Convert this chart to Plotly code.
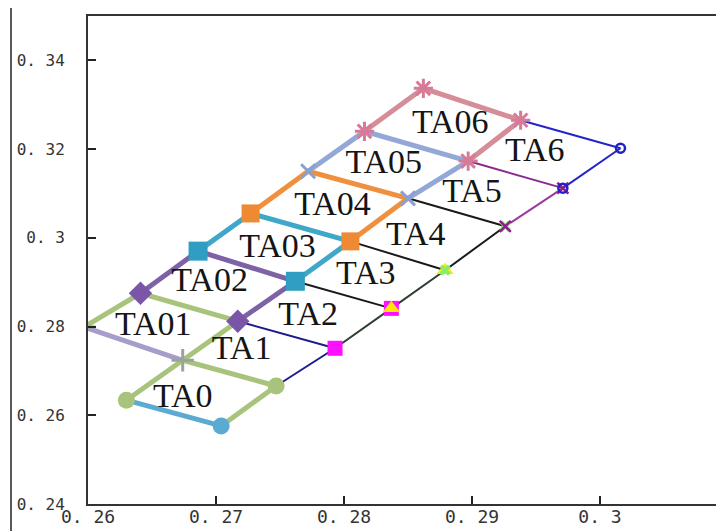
import plotly.graph_objects as go

# ---- grid points ----
# upper-left chain edge (A), middle chain (B), lower-right chain edge (C)
A_x = [0.2597, 0.2641, 0.2686, 0.2727, 0.2772, 0.2816, 0.2862]
A_y = [0.2799, 0.2875, 0.2970, 0.3055, 0.3150, 0.3240, 0.3337]
B_x = [0.2674, 0.2717, 0.2762, 0.2805, 0.2850, 0.2897, 0.2938]
B_y = [0.2724, 0.2812, 0.2902, 0.2992, 0.3089, 0.3173, 0.3265]
C_x = [0.2747, 0.2793, 0.2837, 0.2879, 0.2926, 0.2971, 0.3016]
C_y = [0.2666, 0.2751, 0.2841, 0.2927, 0.3026, 0.3112, 0.3202]
# TA0 extra corners
D_x, D_y = 0.2630, 0.2634
E_x, E_y = 0.2704, 0.2576

# ---- labels ----
upper_labels = ["TA01", "TA02", "TA03", "TA04", "TA05", "TA06"]
upper_lx = [0.2651, 0.2695, 0.2748, 0.2791, 0.2831, 0.2883]
upper_ly = [0.2799, 0.2900, 0.2977, 0.3071, 0.3166, 0.3256]
lower_labels = ["TA1", "TA2", "TA3", "TA4", "TA5", "TA6"]
lower_lx = [0.2720, 0.2772, 0.2817, 0.2856, 0.2900, 0.2949]
lower_ly = [0.2745, 0.2823, 0.2914, 0.3004, 0.3100, 0.3193]
ta0_label, ta0_lx, ta0_ly = "TA0", 0.2674, 0.2637

x_ticks = [0.26, 0.27, 0.28, 0.29, 0.30, 0.31]
x_ticktext = ["0. 26", "0. 27", "0. 28", "0. 29", "0. 3", "0. 31"]
y_ticks = [0.24, 0.26, 0.28, 0.30, 0.32, 0.34]
y_ticktext = ["0. 24", "0. 26", "0. 28", "0. 3", "0. 32", "0. 34"]

# ---- styles ----
thick_colors = ["#a8c47c", "#7e62a6", "#3fa7c7", "#f0903e", "#93a8d6", "#d58d97"]
thick_symbols = ["cross-thin-open", "diamond", "square", "square", "x-thin-open", "asterisk-open"]
thick_mcolors = ["#9aa39a", "#7a55a8", "#2f9ec2", "#ef8a34", "#8aa0d0", "#d77a98"]
thick_msizes = [16, 18, 19, 18, 14, 16]
spoke_colors = ["#1c1c8c", "#1a1a1a", "#1a1a1a", "#1a1a1a", "#8a2a8a", "#2424c8"]
rim_colors = ["#1c1c8c", "#2f3f2f", "#2f3f2f", "#1a1a1a", "#9a3a9a", "#2424c8"]
thin_symbols = ["diamond", "square", "triangle-up", "x", "x-thin-open", "circle-open"]
thin_mcolors = ["#1c1c8c", "#ff10ff", "#ffe800", "#86ee6a", "#8a208a", "#2020c8"]
thin_msizes = [9, 15, 15, 10, 11, 9]

fig = go.Figure()

# thin lower chain (TA1..TA6): spokes B_k -> C_k and rim C_{k-1} -> C_k
for k in range(1, 7):
    fig.add_trace(go.Scatter(x=[B_x[k], C_x[k]], y=[B_y[k], C_y[k]], mode="lines",
                             line=dict(color=spoke_colors[k - 1], width=2), hoverinfo="skip"))
    fig.add_trace(go.Scatter(x=[C_x[k - 1], C_x[k]], y=[C_y[k - 1], C_y[k]], mode="lines",
                             line=dict(color=rim_colors[k - 1], width=2), hoverinfo="skip"))

# thick: TA0 edges
fig.add_trace(go.Scatter(x=[D_x, E_x], y=[D_y, E_y], mode="lines",
                         line=dict(color="#5aaad2", width=5), hoverinfo="skip"))
fig.add_trace(go.Scatter(x=[A_x[0], B_x[0]], y=[A_y[0], B_y[0]], mode="lines",
                         line=dict(color="#a79dcb", width=5), hoverinfo="skip"))
fig.add_trace(go.Scatter(x=[D_x, B_x[0], C_x[0], E_x], y=[D_y, B_y[0], C_y[0], E_y], mode="lines",
                         line=dict(color="#a8c47c", width=5), hoverinfo="skip"))

# thick upper chain TA01..TA06: A_{k-1} -> A_k -> B_k -> B_{k-1}
for k in range(1, 7):
    fig.add_trace(go.Scatter(x=[A_x[k - 1], A_x[k], B_x[k], B_x[k - 1]],
                             y=[A_y[k - 1], A_y[k], B_y[k], B_y[k - 1]], mode="lines",
                             line=dict(color=thick_colors[k - 1], width=5), hoverinfo="skip"))

# thin markers (series k at C_{k-1}, C_k)
for k in range(1, 7):
    sym = thin_symbols[k - 1]
    openm = sym.endswith("open")
    fig.add_trace(go.Scatter(x=[C_x[k - 1], C_x[k]], y=[C_y[k - 1], C_y[k]], mode="markers",
                             marker=dict(symbol=sym, size=thin_msizes[k - 1], color=thin_mcolors[k - 1],
                                         line=dict(width=2.5 if openm else 0, color=thin_mcolors[k - 1])),
                             hoverinfo="skip"))

# TA0 markers
fig.add_trace(go.Scatter(x=[D_x, C_x[0]], y=[D_y, C_y[0]], mode="markers",
                         marker=dict(symbol="circle", size=17, color="#a8c47c"), hoverinfo="skip"))
fig.add_trace(go.Scatter(x=[E_x], y=[E_y], mode="markers",
                         marker=dict(symbol="circle", size=17, color="#5aaad2"), hoverinfo="skip"))

# thick markers (series k at A_{k-1}, B_{k-1}; last series also at A6, B6)
for k in range(1, 7):
    xs = [A_x[k - 1], B_x[k - 1]]
    ys = [A_y[k - 1], B_y[k - 1]]
    if k == 6:
        xs += [A_x[6], B_x[6]]
        ys += [A_y[6], B_y[6]]
    sym = thick_symbols[k - 1]
    openm = sym.endswith("open")
    fig.add_trace(go.Scatter(x=xs, y=ys, mode="markers",
                             marker=dict(symbol=sym, size=thick_msizes[k - 1], color=thick_mcolors[k - 1],
                                         line=dict(width=3 if openm else 0, color=thick_mcolors[k - 1])),
                             hoverinfo="skip"))

# labels
lbl_font = dict(family="Liberation Serif", size=34, color="#151515")
fig.add_trace(go.Scatter(x=upper_lx, y=upper_ly, text=upper_labels, mode="text",
                         textfont=lbl_font, hoverinfo="skip"))
fig.add_trace(go.Scatter(x=lower_lx, y=lower_ly, text=lower_labels, mode="text",
                         textfont=lbl_font, hoverinfo="skip"))
fig.add_trace(go.Scatter(x=[ta0_lx], y=[ta0_ly], text=[ta0_label], mode="text",
                         textfont=lbl_font, hoverinfo="skip"))

fig.update_layout(
    width=724, height=531,
    margin=dict(l=80, r=4, t=8, b=35, autoexpand=False),
    paper_bgcolor="white", plot_bgcolor="white",
    showlegend=False,
    xaxis=dict(range=[0.26, 0.31], tickvals=x_ticks, ticktext=x_ticktext,
               ticks="inside", ticklen=8, tickwidth=2, tickcolor="#222",
               showline=True, linecolor="#333", linewidth=2, mirror=True,
               showgrid=False, zeroline=False, ticklabelstandoff=-5, automargin=False,
               tickfont=dict(family="DejaVu Sans Mono", size=18, color="#333")),
    yaxis=dict(range=[0.24, 0.35], tickvals=y_ticks, ticktext=y_ticktext,
               ticks="inside", ticklen=8, tickwidth=2, tickcolor="#222",
               showline=True, linecolor="#333", linewidth=2, mirror=True,
               showgrid=False, zeroline=False, ticklabelstandoff=18, automargin=False,
               tickfont=dict(family="DejaVu Sans Mono", size=16, color="#333")),
    shapes=[dict(type="line", xref="paper", yref="paper",
                 x0=-0.1203, x1=-0.1203, y0=-0.08, y1=1.02,
                 line=dict(color="#222", width=1.5))],
)

fig.write_html("out.html")
